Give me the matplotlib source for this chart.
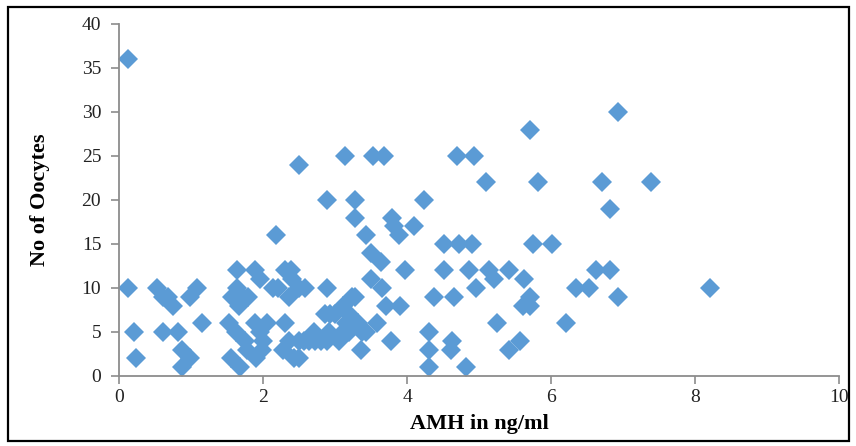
import matplotlib
matplotlib.use("Agg")
import matplotlib.pyplot as plt
from matplotlib.patches import Rectangle

# AMH (ng/ml) values
amh = [
    0.12, 0.12, 0.20, 0.23,
    0.52, 0.60, 0.68, 0.75,
    0.98, 1.08, 1.15,
    0.61, 0.82,
    0.87, 0.98, 0.87,
    1.63, 1.88, 1.95, 1.63, 1.56, 1.72, 1.66, 1.79,
    1.53, 1.62, 1.75, 1.78, 1.88, 1.95, 2.05, 2.00, 1.90, 1.55, 1.68, 1.98,
    2.17, 2.14, 2.21, 2.30, 2.38, 2.40, 2.35, 2.50, 2.58, 2.88,
    2.30, 2.28, 2.35, 2.42, 2.49, 2.50, 2.56, 2.63, 2.70, 2.72, 2.80, 2.88, 2.93, 2.86,
    2.49, 2.88,
    3.13, 3.53, 3.67, 3.28, 3.28, 3.42, 3.49, 3.63, 3.49, 3.65, 3.23, 3.28,
    3.19, 3.00, 3.23, 3.10, 3.15, 3.32, 3.42, 3.19, 2.91, 3.05, 3.35, 3.58,
    3.70, 3.77, 3.37, 3.10,
    3.79, 3.81, 4.09, 3.88, 3.97, 3.90, 4.23,
    4.30, 4.30, 4.30, 4.37, 4.51, 4.51, 4.62, 4.60, 4.65, 4.69, 4.72, 4.81,
    4.85, 4.90, 4.92, 4.95,
    5.09, 5.13, 5.20, 5.25, 5.41, 5.41, 5.57, 5.62, 5.60, 5.71, 5.71, 5.71,
    5.74, 5.81, 6.01, 6.20, 6.34, 6.52, 6.62, 6.71, 6.81, 6.82, 6.92, 6.92,
    7.39, 8.21,
]

# Number of oocytes
oocytes = [
    36, 10, 5, 2,
    10, 9, 9, 8,
    9, 10, 6,
    5, 5,
    3, 2, 1,
    12, 12, 11, 10, 9, 9, 8, 9,
    6, 5, 4, 3, 6, 5, 6, 4, 2, 2, 1, 3,
    16, 10, 10, 12, 12, 11, 9, 10, 10, 10,
    6, 3, 4, 2, 2, 4, 4, 4, 5, 4, 4, 4, 7, 7,
    24, 20,
    25, 25, 25, 20, 18, 16, 14, 13, 11, 10, 9, 9,
    7, 7, 6, 8, 6, 6, 5, 5, 5, 4, 3, 6,
    8, 4, 5, 5,
    18, 17, 17, 16, 12, 8, 20,
    5, 3, 1, 9, 15, 12, 4, 3, 9, 25, 15, 1,
    12, 15, 25, 10,
    22, 12, 11, 6, 12, 3, 4, 11, 8, 9, 8, 28,
    15, 22, 15, 6, 10, 10, 12, 22, 19, 12, 30, 9,
    22, 10,
]

x_ticks = [0, 2, 4, 6, 8, 10]
y_ticks = [0, 5, 10, 15, 20, 25, 30, 35, 40]

plt.rcParams['font.family'] = ['Liberation Serif', 'DejaVu Serif']

fig = plt.figure(figsize=(8.56, 4.46), dpi=100)
ax = fig.add_axes([119.3 / 856, 70 / 446, (839.3 - 119.3) / 856, (376 - 24) / 446])

ax.plot(amh, oocytes, linestyle='none', marker='D', ms=10,
        color='#5B9BD5', markeredgewidth=0)

ax.set_xlim(0, 10)
ax.set_ylim(0, 40)
ax.set_xticks(x_ticks)
ax.set_yticks(y_ticks)
ax.tick_params(axis='both', direction='out', length=6, width=1.2,
               color='#8C8C8C', labelsize=14, labelcolor='#222222', pad=3)
ax.tick_params(axis='y', pad=7)
for s in ['top', 'right']:
    ax.spines[s].set_visible(False)
for s in ['left', 'bottom']:
    ax.spines[s].set_color('#8C8C8C')
    ax.spines[s].set_linewidth(1.3)
for ln in ax.lines:
    ln.set_clip_on(False)

ax.set_xlabel('AMH in ng/ml', fontsize=16, fontweight='bold')
ax.xaxis.label.set_va('center')
ax.xaxis.set_label_coords(0.5, (376 - 424) / 352)
ax.set_ylabel('No of Oocytes', fontsize=16, fontweight='bold')
ax.yaxis.label.set_va('center')
ax.yaxis.set_label_coords((40 - 119.3) / 720, 0.5)

fig.patches.append(Rectangle((8 / 856, 5 / 446), 841 / 856, 434 / 446,
                             transform=fig.transFigure, fill=False,
                             edgecolor='black', linewidth=1.6))

fig.savefig('out.png', dpi=100)
